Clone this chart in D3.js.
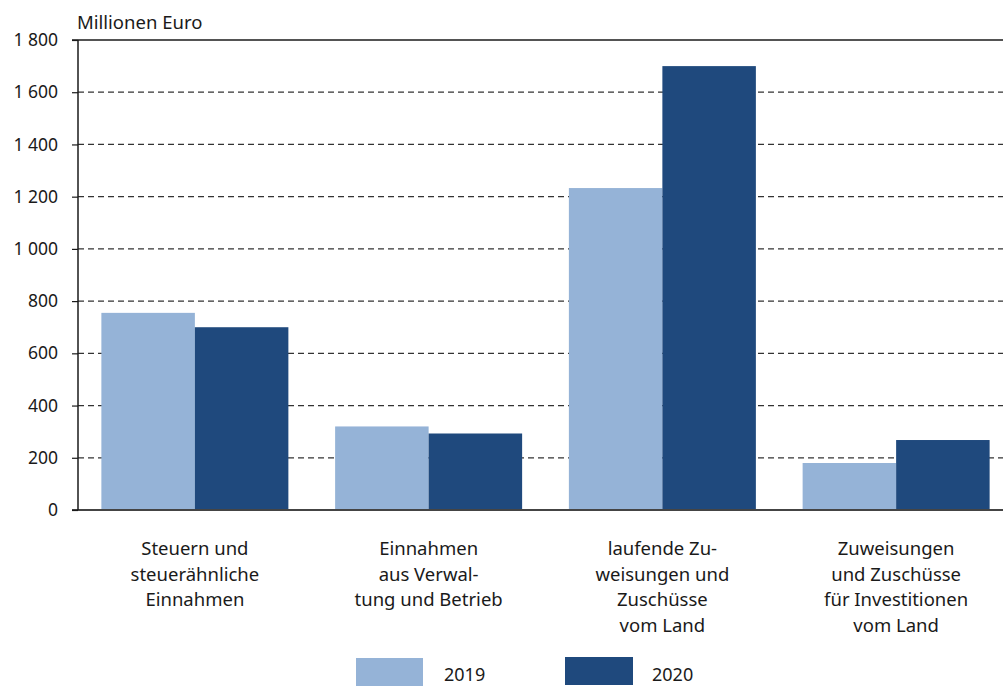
<!DOCTYPE html>
<html>
<head>
<meta charset="utf-8">
<script src="https://cdn.jsdelivr.net/npm/d3@7"></script>
<style>
  body { margin: 0; background: #fff; }
  svg text { font-family: "Noto Sans", sans-serif; fill: #1a1a1a; }
</style>
</head>
<body>
<svg id="chart" width="1003" height="686"></svg>
<script>
const categories = [
  ["Steuern und", "steuerähnliche", "Einnahmen"],
  ["Einnahmen", "aus Verwal-", "tung und Betrieb"],
  ["laufende Zu-", "weisungen und", "Zuschüsse", "vom Land"],
  ["Zuweisungen", "und Zuschüsse", "für Investitionen", "vom Land"]
];
const years = ["2019", "2020"];
const values2019 = [755, 320, 1233, 180];
const values2020 = [700, 293, 1700, 268];
const yTicks = [0, 200, 400, 600, 800, 1000, 1200, 1400, 1600, 1800];
const colors = ["#95b3d7", "#1f497d"];

const svg = d3.select("svg#chart");
const x0 = 78, x1 = 1013, yTop = 40, yBottom = 510;

const x = d3.scaleBand().domain(d3.range(categories.length)).range([x0, x1]).paddingInner(0.2).paddingOuter(0.1);
const xs = d3.scaleBand().domain(years).range([0, x.bandwidth()]);
const y = d3.scaleLinear().domain([0, 1800]).range([yBottom, yTop]);

const fmt = v => d3.format(",")(v).replace(",", "\u00a0");

// grid lines
svg.append("g")
  .selectAll("line")
  .data(yTicks.filter(d => d > 0 && d < 1800))
  .join("line")
  .attr("x1", x0).attr("x2", 1003)
  .attr("y1", d => y(d)).attr("y2", d => y(d))
  .attr("stroke", "#333")
  .attr("stroke-width", 1.2)
  .attr("stroke-dasharray", "6,4");

// bars
const series = [values2019, values2020];
const groups = svg.append("g")
  .selectAll("g")
  .data(categories.map((c, i) => i))
  .join("g")
  .attr("transform", i => `translate(${x(i)},0)`);

groups.selectAll("rect")
  .data(i => years.map((yr, k) => ({ yr, k, v: series[k][i] })))
  .join("rect")
  .attr("x", d => xs(d.yr))
  .attr("width", xs.bandwidth())
  .attr("y", d => y(d.v))
  .attr("height", d => y(0) - y(d.v))
  .attr("fill", d => colors[d.k]);

// top and bottom lines
svg.append("line")
  .attr("x1", 72).attr("x2", 1003).attr("y1", y(1800)).attr("y2", y(1800))
  .attr("stroke", "#1a1a1a").attr("stroke-width", 1.5);
svg.append("line")
  .attr("x1", 72).attr("x2", 1003).attr("y1", y(0)).attr("y2", y(0))
  .attr("stroke", "#444").attr("stroke-width", 1.8);

// y axis
const yAxis = d3.axisLeft(y).tickValues(yTicks).tickSize(6).tickPadding(14).tickFormat(fmt);
const ga = svg.append("g").attr("transform", `translate(${x0},0)`).call(yAxis);
ga.select(".domain").attr("stroke", "#1a1a1a").attr("stroke-width", 1.5).attr("d", `M0,${yTop}V${yBottom}`);
ga.selectAll(".tick line").attr("stroke", "#1a1a1a").attr("stroke-width", 1.2);
ga.selectAll(".tick text").attr("font-size", 17.5).attr("fill", "#1a1a1a")
  .style("font-family", "'Noto Sans', sans-serif");

svg.append("text")
  .attr("x", 77).attr("y", 29)
  .attr("font-size", 18.5)
  .text("Millionen Euro");

// category labels
const labels = svg.append("g")
  .selectAll("text")
  .data(categories)
  .join("text")
  .attr("text-anchor", "middle")
  .attr("font-size", 18.5)
  .attr("x", (d, i) => x(i) + x.bandwidth() / 2)
  .attr("y", 555);
labels.selectAll("tspan")
  .data(d => d)
  .join("tspan")
  .attr("x", function () { return this.parentNode.getAttribute("x"); })
  .attr("dy", (d, i) => i === 0 ? 0 : 25.5)
  .text(d => d);

// legend
const legend = svg.append("g")
  .selectAll("g")
  .data(years)
  .join("g");
legend.append("rect")
  .attr("x", (d, i) => [356, 565][i])
  .attr("y", (d, i) => [658, 657][i])
  .attr("width", (d, i) => [67, 68][i])
  .attr("height", 28)
  .attr("fill", (d, i) => colors[i]);
legend.append("text")
  .attr("x", (d, i) => [444, 652][i])
  .attr("y", (d, i) => [681, 681][i])
  .attr("font-size", 18)
  .text(d => d);
</script>
</body>
</html>
